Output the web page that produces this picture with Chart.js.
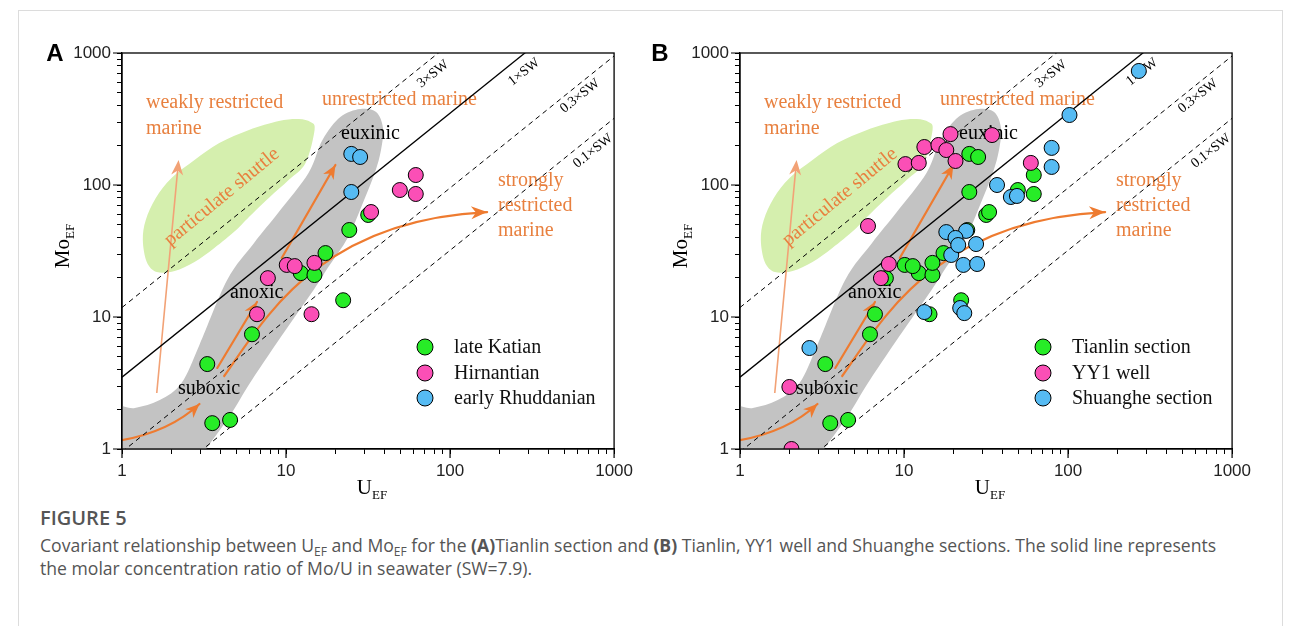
<!DOCTYPE html>
<html><head><meta charset="utf-8">
<script src="https://cdn.jsdelivr.net/npm/chart.js@4.4.1/dist/chart.umd.min.js"></script>
<style>
html,body{margin:0;padding:0;background:#fff}
body{width:1293px;height:626px;position:relative;overflow:hidden}
#frame{position:absolute;left:18px;top:10px;width:1265px;height:700px;border:1px solid #dcdcdc;box-sizing:border-box}
canvas{position:absolute;top:0}
#cA{left:0}#cB{left:618px}
.letter{position:absolute;font:bold 24px 'Liberation Sans',Arial,sans-serif;color:#000;line-height:1;transform:translate(-50%,-50%)}
.atitle{position:absolute;font:21px 'Liberation Serif',serif;color:#000;white-space:nowrap;line-height:1;transform:translate(-50%,-50%)}
.atitle span{font-size:13px;position:relative;top:5px}
.ytitle{transform:translate(-50%,-50%) rotate(-90deg)}
.cap{position:absolute;left:40px;font-family:'Open Sans',sans-serif;color:#555;font-size:17.6px;line-height:22px;white-space:nowrap}
.cap span{font-size:12px;position:relative;top:4px}
</style></head>
<body>
<div id="frame"></div>
<canvas id="cA" width="640" height="500"></canvas>
<canvas id="cB" width="640" height="500"></canvas>
<div class="letter" style="left:55px;top:53px">A</div>
<div class="letter" style="left:660px;top:53px">B</div>
<div class="atitle ytitle" style="left:62px;top:246px">Mo<span>EF</span></div>
<div class="atitle ytitle" style="left:680px;top:246px">Mo<span>EF</span></div>
<div class="atitle" style="left:372px;top:487px">U<span>EF</span></div>
<div class="atitle" style="left:990px;top:487px">U<span>EF</span></div>
<div class="cap" style="top:506px;font-weight:600;font-size:20px;line-height:24px">FIGURE 5</div>
<div class="cap" style="top:534px">Covariant relationship between U<span>EF</span> and Mo<span>EF</span> for the <b>(A)</b>Tianlin section and <b>(B)</b> Tianlin, YY1 well and Shuanghe sections. The solid line represents</div>
<div class="cap" style="top:557px">the molar concentration ratio of Mo/U in seawater (SW=7.9).</div>
<script>
// ---- axis ticks ----
const tickValues = [1,2,3,4,5,6,7,8,9,10,20,30,40,50,60,70,80,90,100,200,300,400,500,600,700,800,900,1000];
const majorTicks = [1,10,100,1000];

// ---- Panel A: Tianlin section ----
const lateKatianU  = [3.31, 3.55, 4.56, 6.2, 12.3, 14.9, 17.4, 24.3, 22.3, 31.7];
const lateKatianMo = [4.4, 1.57, 1.66, 7.4, 21.5, 20.8, 30.5, 45.6, 13.4, 59.3];
const hirnantianU  = [6.65, 7.75, 10.1, 11.3, 14.9, 14.3, 33.0, 49.4, 61.8, 61.8];
const hirnantianMo = [10.5, 19.7, 24.8, 24.3, 25.7, 10.5, 62.4, 91.6, 119, 85.5];
const rhuddanianU  = [25, 28.3, 25];
const rhuddanianMo = [172, 163, 88.5];

// ---- Panel B ----
const tianlinU  = lateKatianU.concat(hirnantianU, rhuddanianU);
const tianlinMo = lateKatianMo.concat(hirnantianMo, rhuddanianMo);
const yy1U  = [2.06, 2.0, 6.03, 7.23, 8.08, 10.2, 12.3, 13.3, 16.2, 19.2, 18.1, 20.6, 34.4, 59.3];
const yy1Mo = [1.0, 2.95, 48.9, 19.7, 25.2, 144, 147, 194, 201, 243, 184, 152, 239, 147];
const shuangheU  = [2.65, 13.3, 22.0, 23.3, 19.4, 23.0, 27.9, 18.1, 23.9, 20.6, 27.5, 21.4, 36.9, 44.8, 48.8, 79.4, 79.4, 102, 270];
const shuangheMo = [5.82, 10.9, 11.7, 10.7, 29.5, 24.8, 25.2, 44.0, 44.9, 39.7, 35.7, 35.1, 100, 81.1, 82.6, 191, 137, 339, 731];

// ---- Mo/U seawater reference lines (endpoints, U and Mo) ----
const swLabels = ['3×SW', '1×SW', '0.3×SW', '0.1×SW'];
const swStartU = [1, 1, 1, 1];
const swStartMo = [11.8, 3.5, 0.95, 0.32];
const swEndU = [1000, 1000, 1000, 1000];
const swEndMo = [11800, 3500, 950, 320];
const swDashed = [true, false, true, true];

// ---- decoration shapes (log10 U, log10 Mo) ----
const bandLog = [[-0.073,-0.159],[-0.073,0.295],[0.079,0.311],[0.230,0.371],[0.363,0.500],[0.472,0.788],[0.641,1.280],[0.805,1.561],[0.956,1.795],[1.137,2.091],[1.222,2.341],[1.331,2.515],[1.452,2.576],[1.549,2.553],[1.591,2.432],[1.579,2.265],[1.543,2.098],[1.476,1.886],[1.379,1.606],[1.258,1.379],[1.168,1.205],[0.998,0.902],[0.792,0.523],[0.653,0.242],[0.514,0.0],[0.442,-0.159]];
const shuttleLog = [[1.174,2.417],[1.119,2.167],[1.016,2.038],[0.895,1.902],[0.774,1.758],[0.696,1.659],[0.563,1.523],[0.442,1.417],[0.321,1.348],[0.212,1.341],[0.151,1.417],[0.127,1.583],[0.145,1.735],[0.206,1.902],[0.302,2.053],[0.442,2.189],[0.593,2.318],[0.774,2.417],[0.956,2.485],[1.077,2.500],[1.149,2.477]];
const arrowThin = [[0.212,0.424],[0.345,2.189]];
const arrowSuboxic = [[-0.02,0.062],[0.290,0.129],[0.472,0.341]];
const arrowAnoxic = [[0.581,0.614],[0.823,1.114]];
const arrowEuxinic = [[0.974,1.447],[1.301,2.152]];
const arrowStrong = [[0.623,0.553],[0.865,0.977],[1.198,1.735],[2.226,1.795]];

const GREEN = '#27EC27', PINK = '#FB4FB6', BLUE = '#56BBF3';
const ORANGE = '#E8803F', ARROW = '#EE7B30', THIN = '#F2A276';

function pts(us, ms){ return us.map((u,i)=>({x:u, y:ms[i]})); }

function smoothClosed(ctx, p){
  const n = p.length;
  ctx.moveTo(p[0][0], p[0][1]);
  for (let i=0;i<n;i++){
    const p0=p[(i-1+n)%n], p1=p[i], p2=p[(i+1)%n], p3=p[(i+2)%n];
    ctx.bezierCurveTo(p1[0]+(p2[0]-p0[0])/6, p1[1]+(p2[1]-p0[1])/6,
                      p2[0]-(p3[0]-p1[0])/6, p2[1]-(p3[1]-p1[1])/6, p2[0], p2[1]);
  }
  ctx.closePath();
}
function head(ctx, from, to, len, hw, color){
  const dx=to[0]-from[0], dy=to[1]-from[1], d=Math.hypot(dx,dy), ux=dx/d, uy=dy/d;
  const bx=to[0]-ux*len, by=to[1]-uy*len, nx=bx+ux*len*0.3, ny=by+uy*len*0.3;
  ctx.fillStyle=color; ctx.beginPath();
  ctx.moveTo(to[0],to[1]);
  ctx.lineTo(bx-uy*hw, by+ux*hw);
  ctx.lineTo(nx, ny);
  ctx.lineTo(bx+uy*hw, by-ux*hw);
  ctx.closePath(); ctx.fill();
}
function rotText(ctx, txt, x, y, ang, font, color){
  ctx.save(); ctx.translate(x,y); ctx.rotate(ang*Math.PI/180);
  ctx.font=font; ctx.fillStyle=color; ctx.textAlign='center'; ctx.textBaseline='middle';
  ctx.fillText(txt,0,0); ctx.restore();
}

const deco = {
  id:'deco',
  beforeDatasetsDraw(chart){
    const {ctx, chartArea:a, scales:{x,y}} = chart;
    const L = q => [x.getPixelForValue(Math.pow(10,q[0])), y.getPixelForValue(Math.pow(10,q[1]))];
    const ox = a.left - 122, oy = a.top - 53;
    ctx.save();
    ctx.beginPath(); ctx.rect(a.left,a.top,a.width,a.height); ctx.clip();
    ctx.fillStyle='#D5EFAE'; ctx.beginPath(); smoothClosed(ctx, shuttleLog.map(L)); ctx.fill();
    ctx.fillStyle='#C3C3C3'; ctx.beginPath(); smoothClosed(ctx, bandLog.map(L)); ctx.fill();
    let t=arrowThin.map(L);
    ctx.strokeStyle=THIN; ctx.lineWidth=1.6; ctx.beginPath(); ctx.moveTo(t[0][0],t[0][1]);
    const tl=[t[1][0]-(t[1][0]-t[0][0])*0.04, t[1][1]-(t[1][1]-t[0][1])*0.04];
    ctx.lineTo(tl[0],tl[1]); ctx.stroke(); head(ctx,t[0],t[1],15,6,THIN);
    ctx.strokeStyle=ARROW; ctx.lineWidth=2.2; ctx.lineCap='round';
    let s=arrowSuboxic.map(L);
    ctx.beginPath(); ctx.moveTo(s[0][0],s[0][1]); ctx.quadraticCurveTo(s[1][0],s[1][1],s[2][0],s[2][1]); ctx.stroke();
    head(ctx,s[1],s[2],14,6,ARROW);
    for (const arr of [arrowAnoxic, arrowEuxinic]){
      const p=arr.map(L);
      ctx.beginPath(); ctx.moveTo(p[0][0],p[0][1]); ctx.lineTo(p[1][0],p[1][1]); ctx.stroke();
      head(ctx,p[0],p[1],14,6,ARROW);
    }
    let c=arrowStrong.map(L);
    ctx.beginPath(); ctx.moveTo(c[0][0],c[0][1]); ctx.bezierCurveTo(c[1][0],c[1][1],c[2][0],c[2][1],c[3][0],c[3][1]); ctx.stroke();
    head(ctx,c[2],c[3],16,6.5,ARROW);
    const F='20px "Liberation Serif"';
    ctx.font=F; ctx.textBaseline='middle'; ctx.textAlign='left';
    ctx.fillStyle=ORANGE;
    ctx.fillText('weakly restricted', 146+ox, 103+oy);
    ctx.fillText('marine', 146+ox, 129+oy);
    ctx.fillText('unrestricted marine', 322+ox, 100+oy);
    ctx.fillText('strongly', 498+ox, 181+oy);
    ctx.fillText('restricted', 498+ox, 206+oy);
    ctx.fillText('marine', 498+ox, 231+oy);
    rotText(ctx,'particulate shuttle',222+ox,197+oy,-39.5,F,ORANGE);
    ctx.fillStyle='#000'; ctx.textAlign='left';
    ctx.fillText('euxinic', 341+ox, 134+oy);
    ctx.fillText('anoxic', 230+ox, 293+oy);
    ctx.fillText('suboxic', 178+ox, 389+oy);
    const SF='14px "Liberation Serif"';
    const swPos = [[433,74],[524,72],[580,96],[593,151]];
    swLabels.forEach((lb,i)=>rotText(ctx,lb,swPos[i][0]+ox,swPos[i][1]+oy,-38.6,SF,'#000'));
    ctx.restore();
  },
  afterDraw(chart){
    const {ctx, chartArea:a, scales:{x,y}} = chart;
    const ox = a.left - 122, oy = a.top - 53;
    ctx.save();
    ctx.strokeStyle='#000'; ctx.lineWidth=1.3;
    ctx.strokeRect(a.left,a.top,a.width,a.height);
    ctx.lineWidth=1.2; ctx.beginPath();
    for (const v of majorTicks){
      const px=x.getPixelForValue(v); ctx.moveTo(px,a.bottom); ctx.lineTo(px,a.bottom+9);
      const py=y.getPixelForValue(v); ctx.moveTo(a.left,py); ctx.lineTo(a.left-9,py);
    }
    ctx.stroke();
    const ds = chart.data.datasets.filter(d=>d.label && d.type!=='line');
    const ly=[347,373,398];
    ds.forEach((d,i)=>{
      ctx.beginPath(); ctx.arc(425+ox, ly[i]+oy, 8, 0, Math.PI*2);
      ctx.fillStyle=d.backgroundColor; ctx.fill(); ctx.strokeStyle='#000'; ctx.lineWidth=1; ctx.stroke();
      ctx.fillStyle='#111'; ctx.font='20px "Liberation Serif"'; ctx.textAlign='left'; ctx.textBaseline='middle';
      ctx.fillText(d.label, 454+ox, ly[i]+oy+1);
    });
    ctx.restore();
  }
};

function swDatasets(){
  return swLabels.map((lb,i)=>({
    type:'line', data:[{x:swStartU[i],y:swStartMo[i]},{x:swEndU[i],y:swEndMo[i]}],
    borderColor:'#000', borderWidth: swDashed[i]?1:1.3, borderDash: swDashed[i]?[5,4]:[],
    pointRadius:0, fill:false, order:10, tension:0
  }));
}
function scatterDs(label, us, ms, color, order){
  return {type:'scatter', label, data:pts(us,ms), backgroundColor:color, borderColor:'#000', borderWidth:1, pointRadius:7.5, pointHoverRadius:7.5, order};
}
function axis(pos){
  return {
    type:'logarithmic', min:1, max:1000, position:pos,
    afterBuildTicks: s => { s.ticks = tickValues.map(v=>({value:v, major:majorTicks.includes(v)})); },
    afterFit: s => { if (pos==='left') s.width=60; else s.height=40; },
    ticks:{autoSkip:false, maxRotation:0, padding: pos==='left'?6:7, color:'#222',
      font:{family:'Liberation Sans', size:17},
      callback: v => majorTicks.includes(v) ? String(v) : ''},
    grid:{drawOnChartArea:false, drawTicks:true, tickLength:5, color:'#000', tickColor:'#000', lineWidth:1},
    border:{display:true, color:'#000', width:1.3}
  };
}
function makeChart(id, datasets){
  return new Chart(document.getElementById(id), {
    data:{datasets: swDatasets().concat(datasets)},
    options:{
      responsive:false, animation:false, devicePixelRatio:1,
      layout:{padding:{left:62, top:53, right:21, bottom:11}},
      plugins:{legend:{display:false}, tooltip:{enabled:false}},
      scales:{x:axis('bottom'), y:axis('left')}
    },
    plugins:[deco]
  });
}
makeChart('cA', [
  scatterDs('late Katian', lateKatianU, lateKatianMo, GREEN, 3),
  scatterDs('Hirnantian', hirnantianU, hirnantianMo, PINK, 2),
  scatterDs('early Rhuddanian', rhuddanianU, rhuddanianMo, BLUE, 1)
]);
makeChart('cB', [
  scatterDs('Tianlin section', tianlinU, tianlinMo, GREEN, 3),
  scatterDs('YY1 well', yy1U, yy1Mo, PINK, 2),
  scatterDs('Shuanghe section', shuangheU, shuangheMo, BLUE, 1)
]);
</script>
</body></html>
